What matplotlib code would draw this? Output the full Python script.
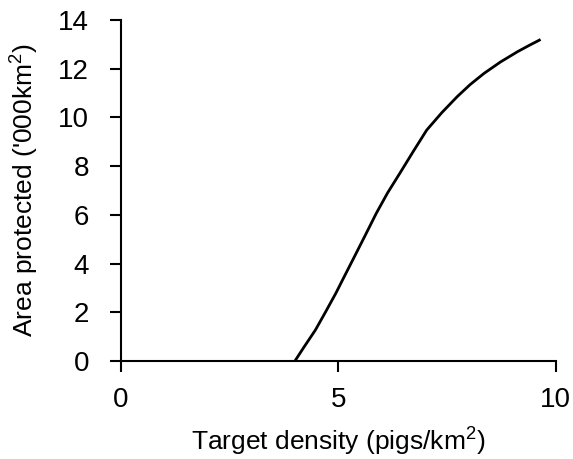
import numpy as np
import matplotlib
matplotlib.use("Agg")
import matplotlib.pyplot as plt

plt.rcParams['font.family'] = ['Liberation Sans', 'DejaVu Sans']
plt.rcParams['mathtext.default'] = 'regular'

# target pig density vs area protected
density = [4.0, 4.2, 4.47, 4.7, 4.94, 5.13, 5.33, 5.6, 5.87, 6.13, 6.41,
           6.72, 7.03, 7.38, 7.73, 8.03, 8.35, 8.73, 9.12, 9.4, 9.65]
area = [0.0, 0.55, 1.27, 2.0, 2.78, 3.45, 4.15, 5.1, 6.06, 6.9, 7.7,
        8.6, 9.48, 10.2, 10.85, 11.35, 11.81, 12.28, 12.7, 12.97, 13.2]
xticks = [0, 5, 10]
yticks = [0, 2, 4, 6, 8, 10, 12, 14]

fig = plt.figure(figsize=(5.73, 4.59), dpi=100)
ax = fig.add_axes([0.2112, 0.2135, 0.7588, 0.7429])

ax.plot(density, area, color='black', lw=2.0, solid_capstyle='butt')

ax.set_xlim(0, 10)
ax.set_ylim(0, 14)
ax.set_xticks(xticks)
ax.set_yticks(yticks)
ax.spines['top'].set_visible(False)
ax.spines['right'].set_visible(False)
for s in ('left', 'bottom'):
    ax.spines[s].set_linewidth(1.5)
ax.tick_params(width=1.5, length=8, labelsize=20)
ax.tick_params(axis='y', pad=15)
ax.tick_params(axis='x', pad=11)

ax.set_xlabel('Target density (pigs/km$^2$)', fontsize=19, labelpad=9)
ax.set_ylabel("Area protected ('000km$^2$)", fontsize=19, labelpad=12)

fig.savefig('out.png', dpi=100)
